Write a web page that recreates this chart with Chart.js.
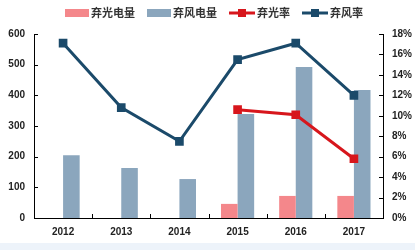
<!DOCTYPE html>
<html>
<head>
<meta charset="utf-8">
<script src="https://cdn.jsdelivr.net/npm/chart.js@4"></script>
<style>
  html, body { margin: 0; padding: 0; background: #fff; }
  #wrap { width: 415px; height: 243px; position: relative; }
  #strip { width: 415px; height: 7px; background: #edf3fa; }
</style>
</head>
<body>
<div id="wrap"><canvas id="chart"></canvas></div>
<div id="strip"></div>
<script>
const years = ['2012', '2013', '2014', '2015', '2016', '2017'];
const solarWaste = [null, null, null, 46, 72, 72];
const windWaste = [205, 163, 127, 339, 492, 417];
const solarRate = [null, null, null, 10.6, 10.1, 5.8];
const windRate = [17.1, 10.8, 7.5, 15.5, 17.1, 12.0];
const leftTicks = [0, 100, 200, 300, 400, 500, 600];
const rightTicks = [0, 2, 4, 6, 8, 10, 12, 14, 16, 18];

const font = { family: 'Liberation Sans, Arial, sans-serif', size: 10, weight: 'bold' };

// legend drawn by hand so the line entries show line + square marker
const legendPlugin = {
    id: 'topLegend',
    afterDraw(chart) {
        const ctx = chart.ctx;
        ctx.save();
        ctx.font = 'bold 11px "Noto Sans CJK SC", sans-serif';
        ctx.textBaseline = 'middle';
        const y = 13;
        let x = 65;
        chart.data.datasets.forEach(ds => {
            if (ds.type === 'line') {
                ctx.strokeStyle = ds.borderColor;
                ctx.lineWidth = 3;
                ctx.beginPath();
                ctx.moveTo(x, y);
                ctx.lineTo(x + 26, y);
                ctx.stroke();
                ctx.fillStyle = ds.borderColor;
                ctx.fillRect(x + 9, y - 4, 8, 8);
            } else {
                ctx.fillStyle = ds.backgroundColor;
                ctx.fillRect(x, y - 4, 24, 8);
            }
            x += ds.type === 'line' ? 28 : 26;
            ctx.fillStyle = '#333';
            ctx.fillText(ds.label, x, y);
            x += ctx.measureText(ds.label).width + 12;
        });
        ctx.restore();
    }
};

// short inward tick marks on all axes
const innerTicks = {
    id: 'innerTicks',
    afterDraw(chart) {
        const ctx = chart.ctx;
        ctx.save();
        ctx.strokeStyle = '#000';
        ctx.lineWidth = 1;
        const yl = chart.scales.y;
        const yr = chart.scales.y1;
        const xs = chart.scales.x;
        yl.ticks.forEach((t, i) => {
            const p = Math.round(yl.getPixelForTick(i)) + 0.5;
            ctx.beginPath();
            ctx.moveTo(yl.right, p);
            ctx.lineTo(yl.right + 4, p);
            ctx.stroke();
        });
        yr.ticks.forEach((t, i) => {
            const p = Math.round(yr.getPixelForTick(i)) + 0.5;
            ctx.beginPath();
            ctx.moveTo(yr.left, p);
            ctx.lineTo(yr.left - 4, p);
            ctx.stroke();
        });
        for (let i = 1; i < years.length; i++) {
            const p = Math.round((xs.getPixelForTick(i - 1) + xs.getPixelForTick(i)) / 2) + 0.5;
            ctx.beginPath();
            ctx.moveTo(p, xs.top);
            ctx.lineTo(p, xs.top - 4);
            ctx.stroke();
        }
        ctx.restore();
    }
};

new Chart(document.getElementById('chart'), {
    data: {
        labels: years,
        datasets: [
            {
                type: 'bar',
                label: '弃光电量',
                data: solarWaste,
                backgroundColor: '#f4878b',
                yAxisID: 'y',
                categoryPercentage: 0.57,
                barPercentage: 1,
                order: 2
            },
            {
                type: 'bar',
                label: '弃风电量',
                data: windWaste,
                backgroundColor: '#8ba6bd',
                yAxisID: 'y',
                categoryPercentage: 0.57,
                barPercentage: 1,
                order: 2
            },
            {
                type: 'line',
                label: '弃光率',
                data: solarRate,
                borderColor: '#d7161c',
                backgroundColor: '#d7161c',
                borderWidth: 3,
                pointStyle: 'rect',
                pointRadius: 4,
                yAxisID: 'y1',
                order: 1
            },
            {
                type: 'line',
                label: '弃风率',
                data: windRate,
                borderColor: '#1b4a6a',
                backgroundColor: '#1b4a6a',
                borderWidth: 3,
                pointStyle: 'rect',
                pointRadius: 4,
                yAxisID: 'y1',
                order: 1
            }
        ]
    },
    options: {
        responsive: true,
        maintainAspectRatio: false,
        animation: false,
        layout: { padding: { top: 34, left: 0, right: 0, bottom: 0 } },
        plugins: {
            legend: { display: false },
            tooltip: { enabled: false }
        },
        scales: {
            x: {
                offset: true,
                grid: { display: false, drawTicks: false },
                border: { color: '#000' },
                ticks: { font: font, color: '#222', padding: 8 },
                afterFit: axis => { axis.height = 25; }
            },
            y: {
                position: 'left',
                min: 0,
                max: 600,
                afterBuildTicks: axis => { axis.ticks = leftTicks.map(v => ({ value: v })); },
                grid: { display: false, drawTicks: false },
                border: { color: '#000' },
                ticks: { font: font, color: '#222', padding: 9 },
                afterFit: axis => { axis.width = 34; }
            },
            y1: {
                position: 'right',
                min: 0,
                max: 18,
                afterBuildTicks: axis => { axis.ticks = rightTicks.map(v => ({ value: v })); },
                grid: { display: false, drawTicks: false },
                border: { color: '#000' },
                ticks: { font: font, color: '#222', padding: 9, callback: v => v + '%' },
                afterFit: axis => { axis.width = 32; }
            }
        }
    },
    plugins: [legendPlugin, innerTicks]
});
</script>
</body>
</html>
